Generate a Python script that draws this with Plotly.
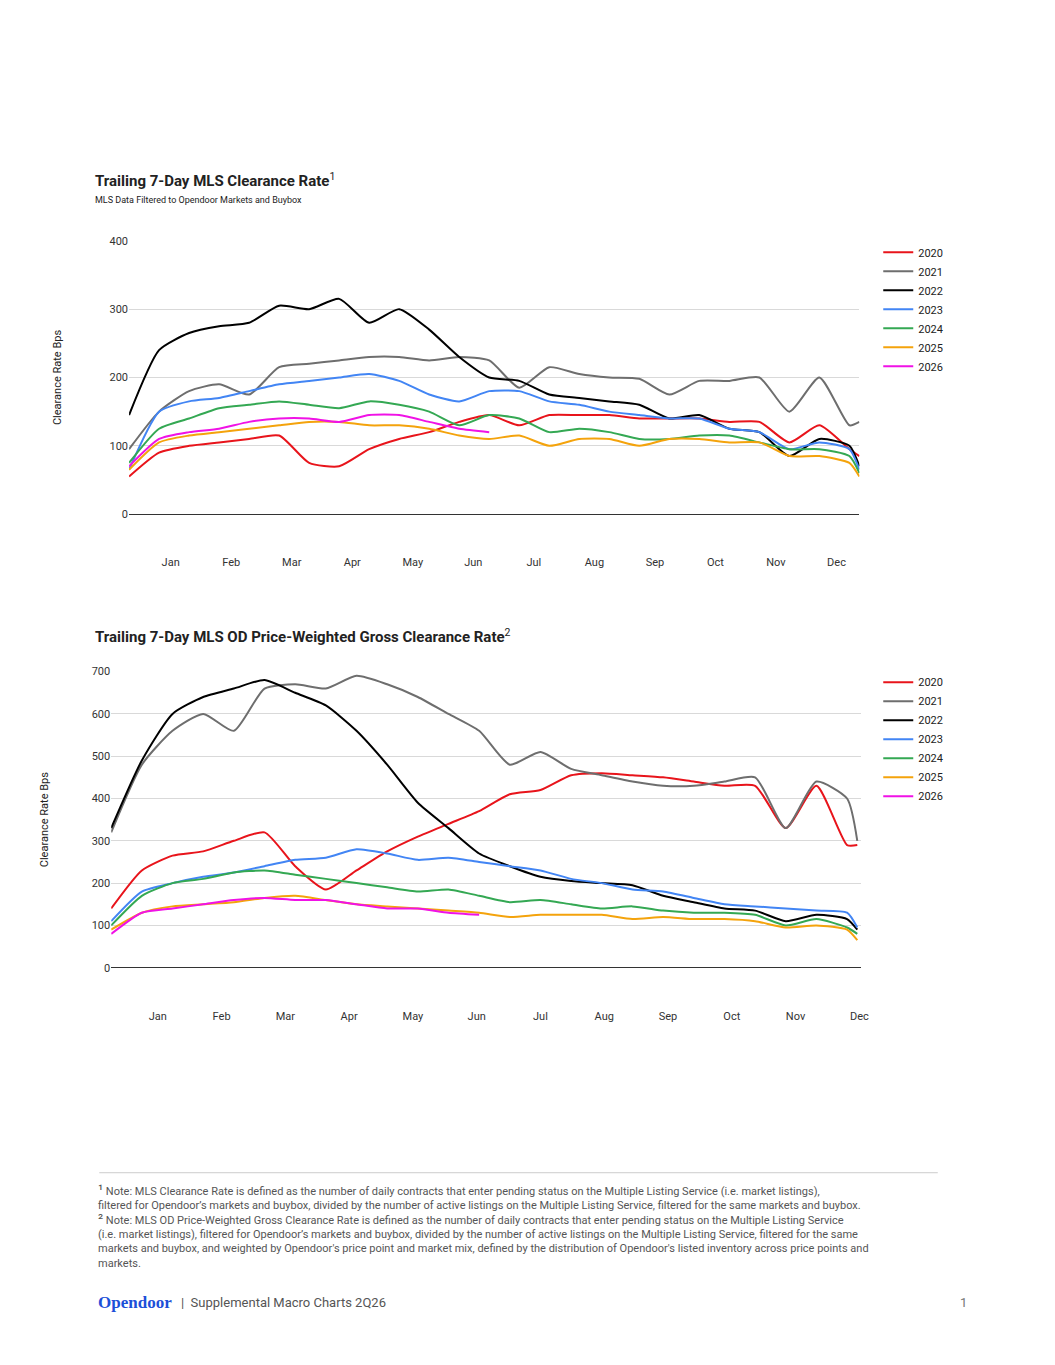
import plotly.graph_objects as go

W, H = 1039, 1349
OFF = 8
years = ["2020", "2021", "2022", "2023", "2024", "2025", "2026"]
colors = ["#e8141b", "#6e6e6e", "#000000", "#4285f4", "#34a853", "#f4a30c", "#f012e6"]
months = ["Jan", "Feb", "Mar", "Apr", "May", "Jun", "Jul", "Aug", "Sep", "Oct", "Nov", "Dec"]

days = [0, 15, 30, 45, 60, 75, 90, 105, 120, 135, 150, 165, 180, 195, 210, 225, 240, 255, 270, 285, 300, 315, 330, 345, 360, 365]

c1 = {
    "2020": [55, 90, 100, 105, 110, 115, 75, 70, 95, 110, 120, 135, 145, 130, 145, 145, 145, 140, 140, 140, 135, 135, 105, 130, 95, 85],
    "2021": [95, 150, 180, 190, 175, 215, 220, 225, 230, 230, 225, 230, 225, 185, 215, 205, 200, 198, 175, 195, 195, 200, 150, 200, 130, 135],
    "2022": [145, 240, 265, 275, 280, 305, 300, 315, 280, 300, 270, 230, 200, 195, 175, 170, 165, 160, 140, 145, 125, 120, 85, 110, 100, 70],
    "2023": [65, 150, 165, 170, 180, 190, 195, 200, 205, 195, 175, 165, 180, 180, 165, 160, 150, 145, 140, 140, 125, 120, 95, 105, 95, 65],
    "2024": [75, 125, 140, 155, 160, 165, 160, 155, 165, 160, 150, 130, 145, 140, 120, 125, 120, 110, 110, 115, 115, 105, 95, 95, 85, 60],
    "2025": [65, 105, 115, 120, 125, 130, 135, 135, 130, 130, 125, 115, 110, 115, 100, 110, 110, 100, 110, 110, 105, 105, 85, 85, 75, 55],
    "2026": [70, 110, 120, 125, 135, 140, 140, 135, 145, 145, 135, 125, 120],
}
c2 = {
    "2020": [140, 230, 265, 275, 300, 320, 240, 185, 230, 275, 310, 340, 370, 410, 420, 455, 460, 455, 450, 440, 430, 430, 330, 430, 290, 290],
    "2021": [320, 480, 560, 600, 560, 660, 670, 660, 690, 670, 640, 600, 560, 480, 510, 470, 455, 440, 430, 430, 440, 450, 330, 440, 400, 300],
    "2022": [330, 490, 600, 640, 660, 680, 650, 620, 560, 480, 390, 330, 270, 240, 215, 205, 200, 195, 170, 155, 140, 135, 110, 125, 115, 90],
    "2023": [110, 180, 200, 215, 225, 240, 255, 260, 280, 270, 255, 260, 250, 240, 230, 210, 200, 185, 180, 165, 150, 145, 140, 135, 130, 95],
    "2024": [100, 170, 200, 210, 225, 230, 220, 210, 200, 190, 180, 185, 170, 155, 160, 150, 140, 145, 135, 130, 130, 125, 100, 115, 95, 80],
    "2025": [90, 130, 145, 150, 155, 165, 170, 160, 150, 145, 140, 135, 130, 120, 125, 125, 125, 115, 120, 115, 115, 110, 95, 100, 90, 65],
    "2026": [80, 130, 140, 150, 160, 165, 160, 160, 150, 140, 140, 130, 125],
}
tick1 = [20.8 + 30.25 * i for i in range(12)]
tick2 = [22.8 + 31.2 * i for i in range(12)]

fig = go.Figure()
for yr, col in zip(years, colors):
    v = c1[yr]
    fig.add_trace(go.Scatter(x=days[:len(v)], y=v, mode="lines", name=yr, line=dict(color=col, width=2, shape="spline", smoothing=0.6),
                             xaxis="x", yaxis="y", legend="legend"))
for yr, col in zip(years, colors):
    v = c2[yr]
    fig.add_trace(go.Scatter(x=days[:len(v)], y=v, mode="lines", name=yr, line=dict(color=col, width=2, shape="spline", smoothing=0.6),
                             xaxis="x2", yaxis="y2", legend="legend2"))

def px(x): return (x - OFF) / W
def py(y): return 1 - (y - OFF) / H

axfont = dict(family="Roboto", size=11, color="#333")
common_x = dict(showgrid=False, zeroline=False, showline=False, ticks="outside", ticklen=38, tickcolor="rgba(0,0,0,0)",
                ticktext=months, tickfont=axfont, fixedrange=True)
common_y = dict(showgrid=True, gridcolor="#d9d9d9", zeroline=True, zerolinecolor="#333", zerolinewidth=1, tickfont=axfont,
                title=dict(text="Clearance Rate Bps", font=dict(family="Roboto", size=11, color="#222")))
fig.update_layout(
    width=W, height=H, margin=dict(l=0, r=0, t=0, b=0), plot_bgcolor="white", paper_bgcolor="white",
    showlegend=True,
    xaxis=dict(common_x, domain=[px(130), px(866)], range=[0, 365], tickvals=tick1, anchor="y"),
    yaxis=dict(common_y, domain=[py(513), py(237)], range=[0, 400], dtick=100, anchor="x", title_standoff=45),
    xaxis2=dict(common_x, domain=[px(112), px(868)], range=[0, 367], tickvals=tick2, anchor="y2"),
    yaxis2=dict(common_y, domain=[py(971), py(672)], range=[0, 700], dtick=100, anchor="x2", title_standoff=40),
    legend=dict(x=px(885), y=py(234), xanchor="left", yanchor="top", font=dict(family="Roboto", size=11, color="#222"),
                itemwidth=30, tracegroupgap=0, bgcolor="rgba(0,0,0,0)"),
    legend2=dict(x=px(885), y=py(668), xanchor="left", yanchor="top", font=dict(family="Roboto", size=11, color="#222"),
                 itemwidth=30, tracegroupgap=4, bgcolor="rgba(0,0,0,0)"),
)

ann = [
    dict(x=px(94), y=py(176), text="<b>Trailing 7-Day MLS Clearance Rate</b><sup>1</sup>", font=dict(family="Roboto", size=15, color="#222")),
    dict(x=px(94), y=py(196), text="MLS Data Filtered to Opendoor Markets and Buybox", font=dict(family="Roboto", size=9, color="#222")),
    dict(x=px(94), y=py(636), text="<b>Trailing 7-Day MLS OD Price-Weighted Gross Clearance Rate</b><sup>2</sup>", font=dict(family="Roboto", size=15, color="#222")),
    dict(x=px(97), y=py(1232), yanchor="middle",
         text="<span style='font-size:14px'>¹</span> Note: MLS Clearance Rate is defined as the number of daily contracts that enter pending status on the Multiple Listing Service (i.e. market listings),<br>"
              "filtered for Opendoor’s markets and buybox, divided by the number of active listings on the Multiple Listing Service, filtered for the same markets and buybox.<br>"
              "<span style='font-size:14px'>²</span> Note: MLS OD Price-Weighted Gross Clearance Rate is defined as the number of daily contracts that enter pending status on the Multiple Listing Service<br>"
              "(i.e. market listings), filtered for Opendoor’s markets and buybox, divided by the number of active listings on the Multiple Listing Service, filtered for the same<br>"
              "markets and buybox, and weighted by Opendoor's price point and market mix, defined by the distribution of Opendoor's listed inventory across price points and<br>markets.",
         font=dict(family="Roboto", size=11, color="#555")),
    dict(x=px(97), y=py(1309), text="<b>Opendoor</b>", font=dict(family="Liberation Serif", size=17, color="#1c4fd8")),
    dict(x=px(180), y=py(1309), text="|  Supplemental Macro Charts 2Q26", font=dict(family="Roboto", size=13, color="#555")),
    dict(x=px(976), y=py(1309), xanchor="right", text="1", font=dict(family="Roboto", size=13, color="#777")),
]
for a in ann:
    a.setdefault("xanchor", "left")
    a.setdefault("yanchor", "middle")
    a.update(xref="paper", yref="paper", showarrow=False, align="left")
fig.update_layout(annotations=ann,
                  shapes=[dict(type="line", xref="paper", yref="paper", x0=px(100), x1=px(945), y0=py(1178), y1=py(1178),
                               line=dict(color="#ccc", width=1))])

fig.write_html("out.html")
